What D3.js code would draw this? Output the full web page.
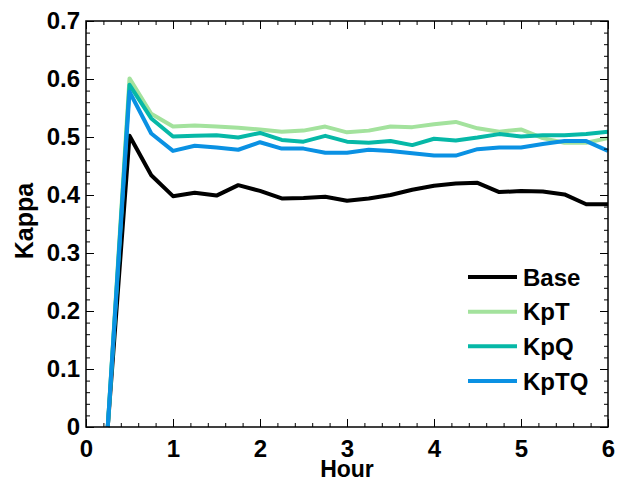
<!DOCTYPE html>
<html>
<head>
<meta charset="utf-8">
<script src="https://cdn.jsdelivr.net/npm/d3@7"></script>
<style>
  body { margin: 0; background: #fff; }
  text { font-family: "Liberation Sans", Arial, sans-serif; font-weight: bold; }
</style>
</head>
<body>
<svg id="chart" width="623" height="482"></svg>
<script>
// Data
let hours = [0.25, 0.5, 0.75, 1, 1.25, 1.5, 1.75, 2, 2.25, 2.5, 2.75, 3,
             3.25, 3.5, 3.75, 4, 4.25, 4.5, 4.75, 5, 5.25, 5.5, 5.75, 6];
let base = [0, 0.502, 0.434, 0.398, 0.404, 0.399, 0.417, 0.407, 0.394, 0.395, 0.397, 0.390,
            0.394, 0.400, 0.409, 0.416, 0.420, 0.421, 0.405, 0.407, 0.406, 0.401, 0.384, 0.384];
let kpT = [0, 0.601, 0.540, 0.518, 0.520, 0.518, 0.516, 0.513, 0.509, 0.511, 0.518, 0.508,
           0.511, 0.518, 0.517, 0.522, 0.526, 0.515, 0.509, 0.513, 0.498, 0.490, 0.490, 0.498];
let kpQ = [0, 0.590, 0.532, 0.501, 0.502, 0.503, 0.499, 0.507, 0.495, 0.492, 0.502, 0.492,
           0.490, 0.493, 0.486, 0.497, 0.494, 0.499, 0.505, 0.501, 0.503, 0.503, 0.505, 0.509];
let kpTQ = [0, 0.578, 0.506, 0.476, 0.485, 0.482, 0.478, 0.491, 0.480, 0.480, 0.473, 0.473,
            0.478, 0.476, 0.472, 0.468, 0.468, 0.479, 0.482, 0.482, 0.488, 0.493, 0.493, 0.476];
let seriesNames = ["Base", "KpT", "KpQ", "KpTQ"];
let seriesColors = ["#000000", "#a3e29d", "#06b8a7", "#0a91e3"];
let xTicks = [0, 1, 2, 3, 4, 5, 6];
let yTicks = [0, 0.1, 0.2, 0.3, 0.4, 0.5, 0.6, 0.7];

let allSeries = [base, kpT, kpQ, kpTQ];

let margin = {left: 86, right: 15, top: 21, bottom: 55};
let width = 623, height = 482;
let svg = d3.select("#chart");

let x = d3.scaleLinear().domain([0, 6]).range([margin.left, width - margin.right]);
let y = d3.scaleLinear().domain([0, 0.7]).range([height - margin.bottom, margin.top]);

// Lines first so the frame sits on top
let line = d3.line()
    .x((d, i) => x(hours[i]))
    .y(d => y(d));
svg.selectAll(".series")
    .data(allSeries)
    .join("path")
        .attr("class", "series")
        .attr("d", d => line(d))
        .style("fill", "none")
        .style("stroke", (d, i) => seriesColors[i])
        .style("stroke-width", "4px")
        .style("stroke-linejoin", "round");

// Axes: ticks inward, mirrored on all four sides
let fontSize = 24;
function styleAxis (g) {
    g.select(".domain").remove();
    g.selectAll("line").style("stroke", "#000").style("stroke-width", "1px");
    g.selectAll("text").style("font-size", fontSize + "px").attr("fill", "#000");
}
let xMinor = d3.range(0, 6.001, 0.2);
let yMinor = d3.range(0, 0.7001, 0.02);

svg.append("g")
    .attr("transform", "translate(0," + y(0) + ")")
    .call(d3.axisBottom(x).tickValues(xMinor).tickSize(-4).tickFormat(""))
    .call(styleAxis);
svg.append("g")
    .attr("transform", "translate(0," + y(0) + ")")
    .call(d3.axisBottom(x).tickValues(xTicks).tickSize(-8).tickPadding(13).tickFormat(d3.format("d")))
    .call(styleAxis)
    .call(g => g.selectAll("text").attr("dy", "0.71em"));
svg.append("g")
    .attr("transform", "translate(0," + y(0.7) + ")")
    .call(d3.axisTop(x).tickValues(xMinor).tickSize(-4).tickFormat(""))
    .call(styleAxis);
svg.append("g")
    .attr("transform", "translate(0," + y(0.7) + ")")
    .call(d3.axisTop(x).tickValues(xTicks).tickSize(-8).tickFormat(""))
    .call(styleAxis);

svg.append("g")
    .attr("transform", "translate(" + x(0) + ",0)")
    .call(d3.axisLeft(y).tickValues(yMinor).tickSize(-4).tickFormat(""))
    .call(styleAxis);
svg.append("g")
    .attr("transform", "translate(" + x(0) + ",0)")
    .call(d3.axisLeft(y).tickValues(yTicks).tickSize(-8).tickPadding(6)
        .tickFormat(d => d === 0 ? "0" : d3.format(".1f")(d)))
    .call(styleAxis);
svg.append("g")
    .attr("transform", "translate(" + x(6) + ",0)")
    .call(d3.axisRight(y).tickValues(yMinor).tickSize(-4).tickFormat(""))
    .call(styleAxis);
svg.append("g")
    .attr("transform", "translate(" + x(6) + ",0)")
    .call(d3.axisRight(y).tickValues(yTicks).tickSize(-8).tickFormat(""))
    .call(styleAxis);

// Frame
svg.append("rect")
    .attr("x", x(0))
    .attr("y", y(0.7))
    .attr("width", x(6) - x(0))
    .attr("height", y(0) - y(0.7))
    .style("fill", "none")
    .style("stroke", "#000")
    .style("stroke-width", "1.5px");

// Axis titles
svg.append("text")
    .attr("x", (x(0) + x(6)) / 2)
    .attr("y", 477)
    .attr("text-anchor", "middle")
    .style("font-size", "23px")
    .text("Hour");
svg.append("text")
    .attr("transform", "translate(33,221) rotate(-90)")
    .attr("text-anchor", "middle")
    .style("font-size", "25px")
    .text("Kappa");

// Legend
let legend = svg.append("g");
let rowY = d3.scalePoint().domain(seriesNames).range([277, 381]);
legend.selectAll("line")
    .data(seriesNames)
    .join("line")
        .attr("x1", 468)
        .attr("x2", 517)
        .attr("y1", d => rowY(d))
        .attr("y2", d => rowY(d))
        .style("stroke", (d, i) => seriesColors[i])
        .style("stroke-width", "4px");
legend.selectAll("text")
    .data(seriesNames)
    .join("text")
        .attr("x", 523)
        .attr("y", d => rowY(d))
        .attr("dy", "0.36em")
        .style("font-size", "24px")
        .text(d => d);
</script>
</body>
</html>
